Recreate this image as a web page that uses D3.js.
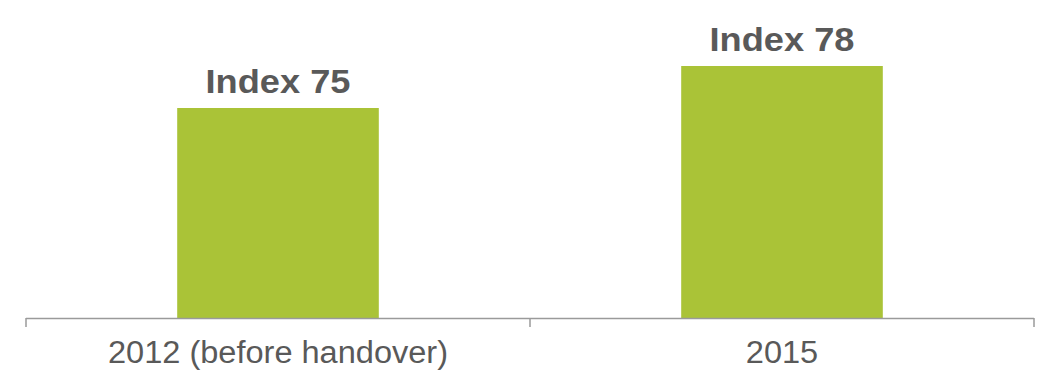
<!DOCTYPE html>
<html>
<head>
<meta charset="utf-8">
<script src="https://cdn.jsdelivr.net/npm/d3@7"></script>
<style>
    body { margin: 0; background: #fff; }
    svg { display: block; }
</style>
</head>
<body>
<div id="chart"></div>
<script>
const categories = ['2012 (before handover)', '2015'];
const values = [75, 78];
const valueLabels = ['Index 75', 'Index 78'];

const width = 1040, height = 371;
const margin = { top: 38, right: 6, bottom: 53, left: 26 };

const svg = d3.select('#chart').append('svg')
    .attr('width', width)
    .attr('height', height);

const x = d3.scaleBand()
    .domain(categories)
    .range([margin.left, width - margin.right])
    .paddingInner(0.6)
    .paddingOuter(0.3);

const y = d3.scaleLinear()
    .domain([60, 80])
    .range([height - margin.bottom, margin.top]);

const x0 = height - margin.bottom;

// the source text is a little wider than Arial, stretch it horizontally
function stretched(sel, cx, cy, k) {
    sel.attr('transform', (d, i) => {
        const px = cx(d, i), py = cy(d, i);
        return `translate(${px},${py}) scale(${k},1)`;
    });
}

// bars
svg.selectAll('rect.bar')
    .data(values)
    .join('rect')
    .attr('class', 'bar')
    .attr('x', (d, i) => x(categories[i]))
    .attr('y', d => y(d))
    .attr('width', x.bandwidth())
    .attr('height', d => x0 - y(d))
    .attr('fill', '#aac337');

// value labels
svg.selectAll('text.val')
    .data(values)
    .join('text')
    .attr('class', 'val')
    .attr('text-anchor', 'middle')
    .style('font-family', 'Liberation Sans, Arial, sans-serif')
    .style('font-weight', 'bold')
    .style('font-size', '34px')
    .style('fill', '#595959')
    .text((d, i) => valueLabels[i])
    .call(stretched, (d, i) => x(categories[i]) + x.bandwidth() / 2, d => y(d) - 15, 1.066);

// axis line with ticks at category boundaries
const bounds = [margin.left, (margin.left + width - margin.right) / 2, width - margin.right];
svg.append('line')
    .attr('x1', bounds[0]).attr('x2', bounds[2])
    .attr('y1', x0 + 0.5).attr('y2', x0 + 0.5)
    .attr('stroke', '#9a9a9a').attr('stroke-width', 1.5);
svg.selectAll('line.tick')
    .data(bounds)
    .join('line')
    .attr('class', 'tick')
    .attr('x1', d => d).attr('x2', d => d)
    .attr('y1', x0).attr('y2', x0 + 9)
    .attr('stroke', '#9a9a9a').attr('stroke-width', 1.5);

// category labels
svg.selectAll('text.cat')
    .data(categories)
    .join('text')
    .attr('class', 'cat')
    .attr('text-anchor', 'middle')
    .style('font-family', 'Liberation Sans, Arial, sans-serif')
    .style('font-size', '31px')
    .style('fill', '#595959')
    .text(d => d)
    .call(stretched, d => x(d) + x.bandwidth() / 2, () => 363, 1.05);
</script>
</body>
</html>
